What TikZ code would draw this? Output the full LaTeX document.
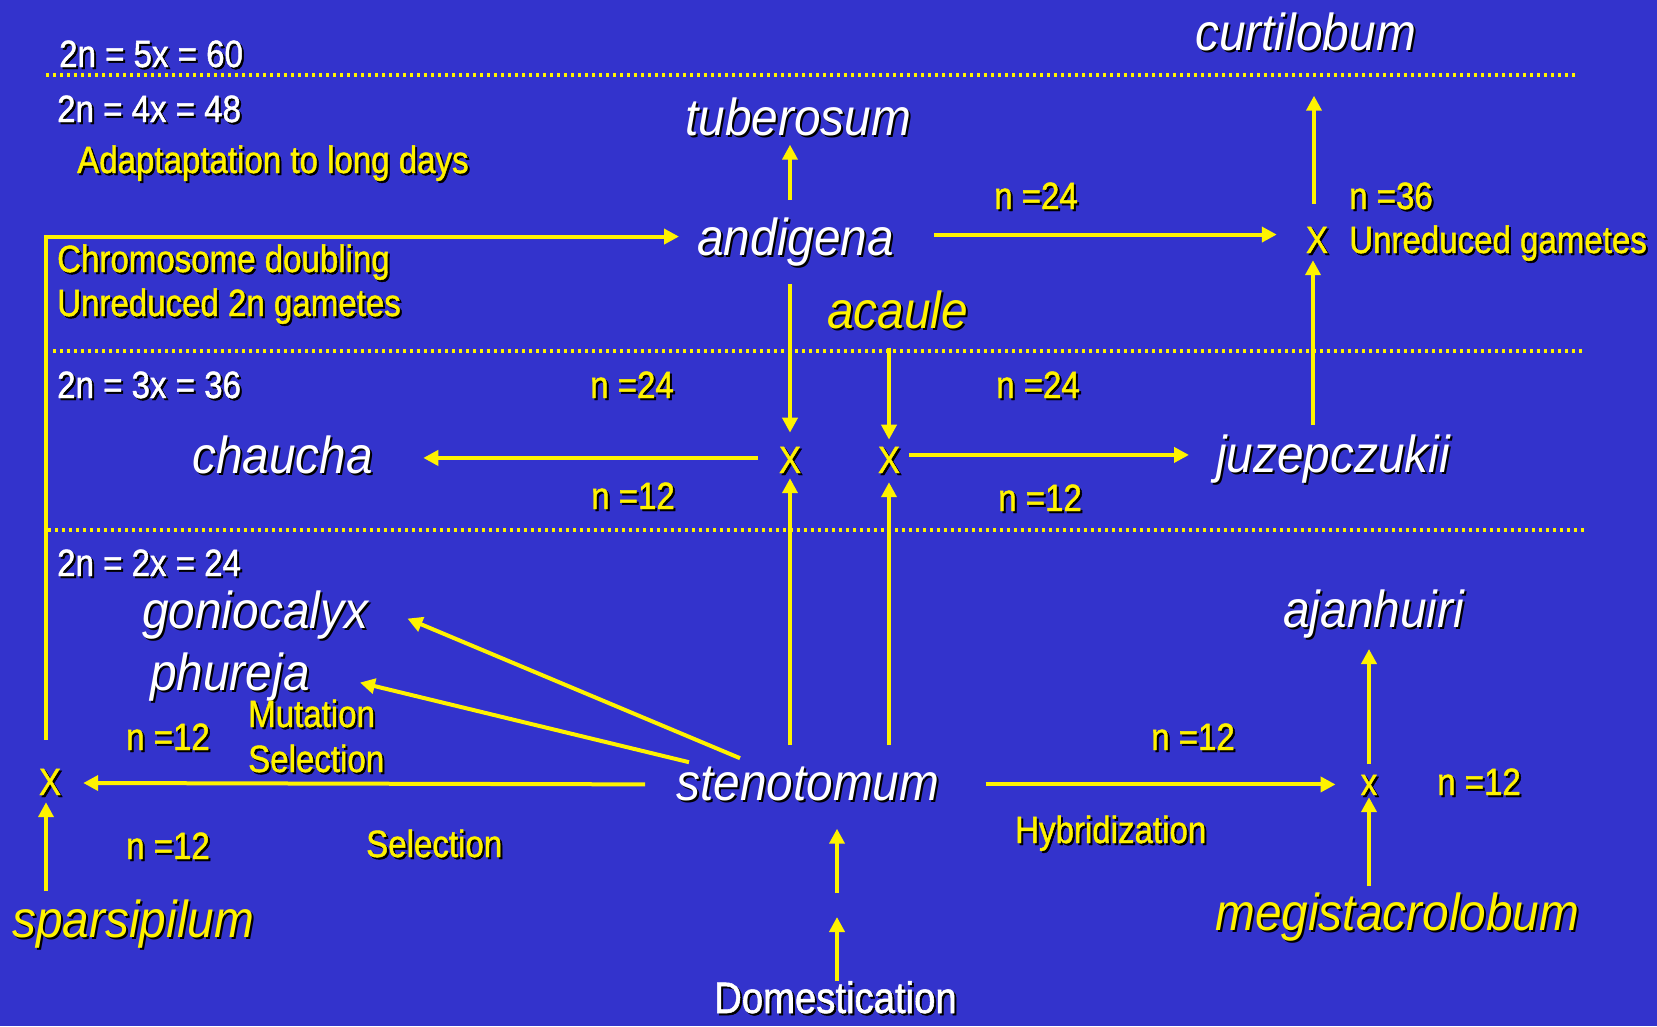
\documentclass[tikz,border=0pt]{standalone}
\usepackage{fontspec}
\usetikzlibrary{arrows.meta}
\newfontfamily\labfont[FakeStretch=0.87,FakeBold=1.2]{Liberation Sans}
\newfontfamily\specfont[FakeStretch=0.92]{Liberation Sans}
\definecolor{SlideBlue}{HTML}{3333CC}
\newcommand\shadowed[1]{\makebox[0pt][l]{\kern2pt\raisebox{-2pt}{\color{black}#1}}#1}
\tikzset{txt/.style={inner sep=0pt,anchor=base west},
  ploidy/.style={txt,text=white,font=\labfont\fontsize{38}{44}\selectfont},
  note/.style={txt,text=yellow,font=\labfont\fontsize{38}{44}\selectfont},
  cultivar/.style={txt,text=white,font=\specfont\itshape\fontsize{52}{60}\selectfont},
  wild/.style={cultivar,text=yellow},
  cross/.style={inner sep=0pt,anchor=base,text=yellow,font=\labfont\fontsize{38}{44}\selectfont},
  arr/.style={-{Triangle[width=15pt,length=15pt]},line width=4pt,yellow},
  sep/.style={yellow,line width=3.3pt,dash pattern=on 3.3pt off 3.7pt}}

\begin{document}
\begin{tikzpicture}[x=1pt,y=-1pt]
\useasboundingbox (0,0) rectangle (1657,1026);
\fill[SlideBlue] (0,0) rectangle (1657,1026);
\draw[sep] (46,75)--(1578,75); \draw[sep] (53,351)--(1585,351); \draw[sep] (48,530)--(1585,530);
% ploidy levels
\node[ploidy] (p5) at (59,67) {\shadowed{2n = 5x = 60}};
\node[ploidy] (p4) at (57,122) {\shadowed{2n = 4x = 48}};
\node[ploidy] (p3) at (57,398) {\shadowed{2n = 3x = 36}};
\node[ploidy] (p2) at (57,576) {\shadowed{2n = 2x = 24}};
\node[note] (longdays) at (77,173) {\shadowed{Adaptaptation to long days}};
\node[note] (doubling) at (57,272) {\shadowed{Chromosome doubling}};
\node[note] (unreduced) at (57,316) {\shadowed{Unreduced 2n gametes}};
% species
\node[cultivar] (curtilobum) at (1195,50) {\shadowed{curtilobum}};
\node[cultivar] (tuberosum) at (685,135) {\shadowed{tuberosum}};
\node[cultivar] (andigena) at (697,255) {\shadowed{andigena}};
\node[wild] (acaule) at (827,328) {\shadowed{acaule}};
\node[cultivar] (chaucha) at (192,473) {\shadowed{chaucha}};
\node[cultivar] (juzepczukii) at (1216,472) {\shadowed{juzepczukii}};
\node[cultivar] (goniocalyx) at (142,628) {\shadowed{goniocalyx}};
\node[cultivar] (phureja) at (150,690) {\shadowed{phureja}};
\node[cultivar] (ajanhuiri) at (1283,627) {\shadowed{ajanhuiri}};
\node[cultivar] (stenotomum) at (676,800) {\shadowed{stenotomum}};
\node[wild] (sparsipilum) at (12,937) {\shadowed{sparsipilum}};
\node[wild] (megistacrolobum) at (1215,930) {\shadowed{megistacrolobum}};
\node[ploidy,font=\labfont\fontsize{44}{50}\selectfont] (domest) at (714,1013) {\shadowed{Domestication}};
% crosses
\node[cross] (xcur) at (1317,253) {\shadowed{X}};
\node[cross] (xa) at (790,473) {\shadowed{X}};
\node[cross] (xb) at (889,473) {\shadowed{X}};
\node[cross] (xl) at (50,795) {\shadowed{X}};
\node[cross] (xr) at (1369,795) {\shadowed{x}};
% gamete numbers and notes
\node[note] (n24a) at (994,209) {\shadowed{n =24}};
\node[note] (n36) at (1349,209) {\shadowed{n =36}};
\node[note] (ugam) at (1349,253) {\shadowed{Unreduced gametes}};
\node[note] (n24b) at (590,398) {\shadowed{n =24}};
\node[note] (n12a) at (591,509) {\shadowed{n =12}};
\node[note] (n24c) at (996,398) {\shadowed{n =24}};
\node[note] (n12b) at (998,511) {\shadowed{n =12}};
\node[note] (mutation) at (248,727) {\shadowed{Mutation}};
\node[note] (sel1) at (248,772) {\shadowed{Selection}};
\node[note] (n12c) at (126,750) {\shadowed{n =12}};
\node[note] (n12d) at (126,859) {\shadowed{n =12}};
\node[note] (sel2) at (366,857) {\shadowed{Selection}};
\node[note] (hybrid) at (1015,843) {\shadowed{Hybridization}};
\node[note] (n12e) at (1151,750) {\shadowed{n =12}};
\node[note] (n12f) at (1437,795) {\shadowed{n =12}};
% connectors
\draw[arr,shorten <=29pt,shorten >=18pt] ([xshift=-4pt]xl.north) |- ([yshift=6pt]andigena.west);
\draw[arr,shorten <=17pt,shorten >=7pt] (xa |- andigena.north) -- (xa |- tuberosum.south);
\draw[arr,shorten <=40pt,shorten >=29pt] ([yshift=8pt]andigena.east) -- ([yshift=8pt]andigena.east -| xcur.west);
\draw[arr,shorten <=23pt,shorten >=43pt] ([xshift=-3pt]xcur.north) -- ([xshift=-3pt]xcur.north |- curtilobum.south);
\draw[arr,shorten <=9pt,shorten >=5pt] ([xshift=-4pt]xcur.south |- juzepczukii.north) -- ([xshift=-4pt]xcur.south);
\draw[arr,shorten <=16pt,shorten >=14pt] (xa |- andigena.south) -- (xa.north);
\draw[arr,shorten <=17pt,shorten >=7pt] (xb |- acaule.south) -- (xb.north);
\draw[arr,shorten <=21pt,shorten >=50pt] ([yshift=3pt]xa.west) -- ([yshift=3pt]xa.west -| chaucha.east);
\draw[arr,shorten <=9pt,shorten >=27pt] ([yshift=6pt]xb.east) -- ([yshift=6pt]xb.east -| juzepczukii.west);
\draw[arr,shorten <=21pt,shorten >=3pt] (xa.south |- stenotomum.north) -- (xa.south);
\draw[arr,shorten <=21pt,shorten >=7pt] (xb.south |- stenotomum.north) -- (xb.south);
\draw[arr] ([shift={(64,-8)}]stenotomum.north west) -- ([shift={(39,3)}]goniocalyx.east);
\draw[arr] ([shift={(13,-4)}]stenotomum.north west) -- ([shift={(50,5)}]phureja.east);
\draw[arr,shorten <=31pt,shorten >=22pt] (stenotomum.west) -- (xl.east);
\draw[arr,shorten <=8pt,shorten >=5pt] ([xshift=-4pt]xl.south |- sparsipilum.north) -- ([xshift=-4pt]xl.south);
\coordinate (dgap) at (837,905);
\draw[arr,shorten <=0pt,shorten >=12pt] (dgap |- domest.north) -- (dgap);
\draw[arr,shorten <=12pt,shorten >=26pt] (dgap) -- (dgap |- stenotomum.south);
\draw[arr,shorten <=46pt,shorten >=25pt] (stenotomum.east) -- (stenotomum.east -| xr.west);
\draw[arr,shorten <=11pt,shorten >=9pt] (xr.north) -- (xr.north |- ajanhuiri.south);
\draw[arr,shorten <=6pt] (xr.south |- megistacrolobum.north) -- (xr.south);
\end{tikzpicture}
\end{document}
